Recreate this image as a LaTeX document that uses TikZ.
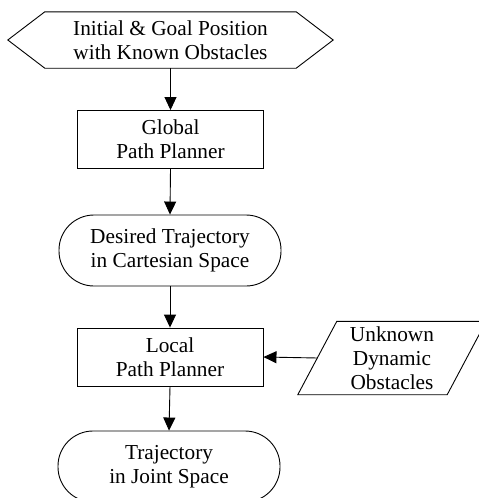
\documentclass[tikz,border=0pt]{standalone}
\usepackage{fontspec}
\setmainfont{Liberation Serif}
\usetikzlibrary{arrows.meta}
\begin{document}
\begin{tikzpicture}[x=1pt,y=-1pt,
  txt/.style={align=center, inner sep=0pt, font=\fontsize{21.3}{24}\selectfont},
  boxnode/.style={txt, draw, line width=0.9pt, minimum width=186pt, minimum height=58pt},
  stadium/.style={txt, draw, line width=0.9pt, minimum width=222pt, minimum height=71pt, rounded corners=35pt},
  outline/.style={draw, line width=0.9pt, line join=miter},
  conn/.style={draw, line width=0.9pt, -{Triangle[length=13pt,width=12pt]}}]
\useasboundingbox (0,0) rectangle (479,498);
% hexagon
\node[txt, minimum width=325pt, minimum height=56pt] (init) at (170.5,40) {Initial \& Goal Position\\with Known Obstacles};
\draw[outline] (init.west) -- ([xshift=37pt]init.north west) -- ([xshift=-37pt]init.north east)
  -- (init.east) -- ([xshift=-37pt]init.south east) -- ([xshift=37pt]init.south west) -- cycle;
\node[boxnode] (global) at (170.5,139.5) {Global\\Path Planner};
\node[stadium] (desired) at (170,250.5) {Desired Trajectory\\in Cartesian Space};
\node[boxnode] (local) at (170,357) {Local\\Path Planner};
\node[stadium] (joint) at (169,466.5) {Trajectory\\in Joint Space};
% parallelogram
\node[txt, minimum width=149pt, minimum height=73pt] (unk) at (392,358) {Unknown\\Dynamic\\Obstacles};
\draw[outline] ([xshift=19.5pt]unk.north west) -- ([xshift=19.5pt]unk.north east)
  -- ([xshift=-19.5pt]unk.south east) -- ([xshift=-19.5pt]unk.south west) -- cycle;
\coordinate (unkin) at ([xshift=-74.5pt]unk.center);
% connectors
\draw[conn] (init.south) -- (global.north);
\draw[conn] (global.south) -- (desired.north);
\draw[conn] (desired.south) -- (local.north);
\draw[conn] (local.south) -- (joint.north);
\draw[conn] (unkin) -- (local.east);
\end{tikzpicture}
\end{document}
